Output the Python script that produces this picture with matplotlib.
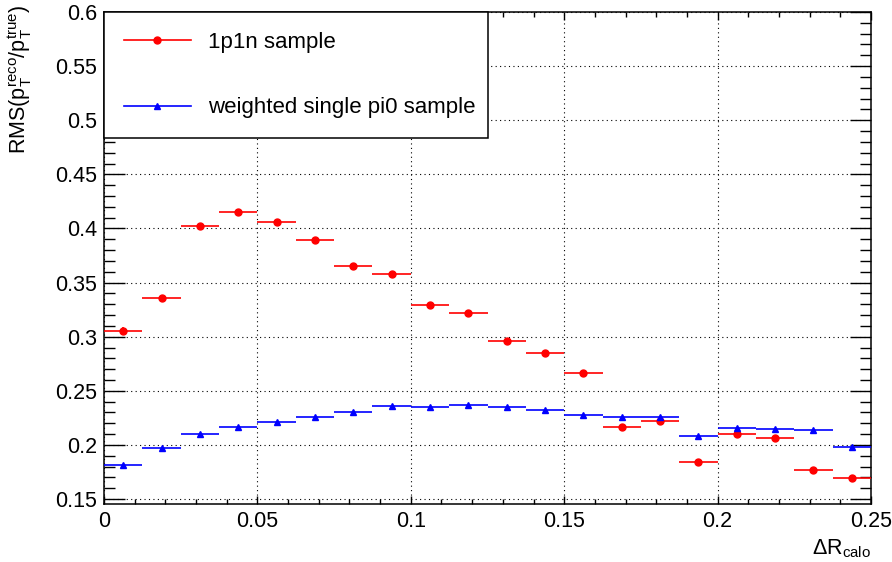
import matplotlib
matplotlib.use('Agg')
import matplotlib.pyplot as plt
from matplotlib.ticker import MultipleLocator, FormatStrFormatter
from matplotlib.lines import Line2D
import numpy as np

plt.rcParams['font.family'] = ['Liberation Sans', 'DejaVu Sans']
plt.rcParams['mathtext.fontset'] = 'custom'
plt.rcParams['mathtext.rm'] = 'Liberation Sans'
plt.rcParams['mathtext.it'] = 'Liberation Sans:italic'

# 20 bins of dR_calo between 0 and 0.25
bin_edges = np.linspace(0.0, 0.25, 21)

rms_1p1n = [0.3055, 0.3355, 0.4022, 0.4149, 0.4056, 0.3893, 0.3653, 0.3576, 0.3293, 0.3222,
            0.2960, 0.2847, 0.2668, 0.2169, 0.2224, 0.1840, 0.2102, 0.2065, 0.1769, 0.1698]
err_1p1n = [0.003, 0.002, 0.002, 0.002, 0.002, 0.002, 0.002, 0.002, 0.002, 0.002,
            0.002, 0.002, 0.002, 0.002, 0.002, 0.002, 0.002, 0.002, 0.002, 0.002]

rms_pi0 = [0.1810, 0.1970, 0.2100, 0.2169, 0.2212, 0.2259, 0.2302, 0.2357, 0.2351, 0.2372,
           0.2351, 0.2323, 0.2274, 0.2261, 0.2259, 0.2086, 0.2154, 0.2145, 0.2136, 0.1984]
err_pi0 = [0.001] * 20

label_1p1n = '1p1n sample'
label_pi0 = 'weighted single pi0 sample'

centers = 0.5 * (bin_edges[1:] + bin_edges[:-1])
half_w = 0.5 * np.diff(bin_edges)

fig = plt.figure(figsize=(8.92, 5.62), dpi=100)
ax = fig.add_axes([104/892, 1-504/562, 767/892, 492/562])

ax.errorbar(centers, rms_1p1n, xerr=half_w, yerr=err_1p1n, fmt='o', color='red',
            ms=5, elinewidth=1.2, capsize=0, zorder=3)
ax.errorbar(centers, rms_pi0, xerr=half_w, yerr=err_pi0, fmt='^', color='blue',
            ms=5, elinewidth=1.2, capsize=0, zorder=3)

ax.set_xlim(0, 0.25)
ax.set_ylim(0.1454, 0.6)

ax.xaxis.set_major_locator(MultipleLocator(0.05))
ax.xaxis.set_minor_locator(MultipleLocator(0.01))
ax.yaxis.set_major_locator(MultipleLocator(0.05))
ax.yaxis.set_minor_locator(MultipleLocator(0.01))
ax.xaxis.set_major_formatter(FormatStrFormatter('%g'))
ax.yaxis.set_major_formatter(FormatStrFormatter('%g'))

ax.tick_params(axis='both', which='both', direction='in', labelsize=15.5, width=1.0, pad=5)
ax.tick_params(axis='x', which='major', length=6, top=True)
ax.tick_params(axis='x', which='minor', length=3.6, top=True)
ax.tick_params(axis='y', which='major', length=15, right=True)
ax.tick_params(axis='y', which='minor', length=8, right=True)

for s in ax.spines.values():
    s.set_linewidth(1.1)

ax.grid(True, which='major', color='black', linestyle=(0, (1, 3)), linewidth=0.8)
ax.set_axisbelow(True)

# ROOT style legend entries: horizontal line with marker
handles = [Line2D([], [], color='red', marker='o', ms=5, lw=1.2),
           Line2D([], [], color='blue', marker='^', ms=5, lw=1.2)]
leg = ax.legend(handles, [label_1p1n, label_pi0], loc='upper left',
                bbox_to_anchor=(0, 0, 384/767, 1), mode='expand',
                borderaxespad=0, fancybox=False, edgecolor='black', framealpha=1,
                fontsize=16, handlelength=3.0, handletextpad=0.8, labelspacing=2.0,
                borderpad=0.9)
leg.get_frame().set_linewidth(1.1)

fig.text(20/892, 1-5/562, r'RMS(p$_{\mathrm{T}}^{\mathrm{reco}}$/p$_{\mathrm{T}}^{\mathrm{true}}$)',
         rotation=90, ha='center', va='top', fontsize=15.5)
fig.text(871/892, 1-560/562, r'$\Delta$R$_{\mathrm{calo}}$', ha='right', va='bottom', fontsize=15.5)

fig.savefig('out.png', dpi=100)
